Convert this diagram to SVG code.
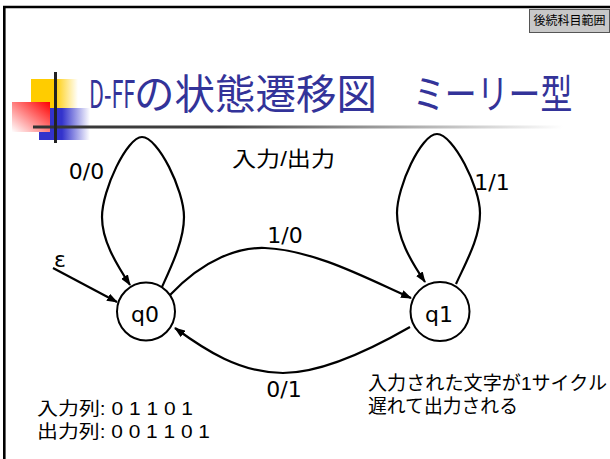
<svg xmlns="http://www.w3.org/2000/svg" width="610" height="459" viewBox="0 0 610 459">
<defs>
<style>
.lbl{font-family:"DejaVu Sans","Liberation Sans",sans-serif;font-size:22px;fill:#000;text-anchor:middle}
.jp{font-family:"Liberation Sans","Noto Sans CJK JP",sans-serif;fill:#000}
.edge{fill:none;stroke:#000;stroke-width:2.2}
.node circle{fill:#fff;stroke:#000;stroke-width:2}
.ttl{font-family:"Noto Sans CJK JP",sans-serif;fill:#333399}
</style>
<marker id="ah" markerWidth="11" markerHeight="8" refX="10" refY="4" orient="auto" markerUnits="userSpaceOnUse">
<path d="M0,0 L11,4 L0,8 z" fill="#000"/>
</marker>
<linearGradient id="gy" x1="0" y1="0" x2="1" y2="0">
<stop offset="0" stop-color="#FFCC00"/><stop offset="0.5" stop-color="#FFCC00"/><stop offset="1" stop-color="#FFFFFF"/>
</linearGradient>
<linearGradient id="gb" x1="0" y1="0" x2="1" y2="0">
<stop offset="0" stop-color="#3333CC"/><stop offset="0.45" stop-color="#3333CC"/><stop offset="1" stop-color="#FFFFFF"/>
</linearGradient>
<linearGradient id="gr" x1="1" y1="0" x2="0" y2="1">
<stop offset="0" stop-color="#FF0000"/><stop offset="1" stop-color="#FFFFFF"/>
</linearGradient>
<linearGradient id="gl" x1="0" y1="0" x2="1" y2="0">
<stop offset="0" stop-color="#333333"/><stop offset="0.35" stop-color="#444444"/><stop offset="1" stop-color="#FFFFFF"/>
</linearGradient>
</defs>
<rect width="610" height="459" fill="#fff"/>
<path d="M4.3,459 V7 H610" fill="none" stroke="#000" stroke-width="2.6"/>
<g id="badge">
<rect x="529.5" y="9.5" width="80" height="23" fill="#C8C8C8" stroke="#555" stroke-width="1"/>
<text x="569.5" y="25" font-family="Noto Sans CJK JP, sans-serif" font-size="12" text-anchor="middle" textLength="72" lengthAdjust="spacingAndGlyphs">後続科目範囲</text>
</g>
<g id="logo">
<rect x="31" y="79" width="47" height="39" fill="url(#gy)"/>
<rect x="39" y="108" width="51" height="32" fill="url(#gb)"/>
<rect x="12" y="102" width="38" height="30" fill="url(#gr)"/>
<rect x="33" y="125.5" width="530" height="3" fill="url(#gl)"/>
<rect x="54" y="72" width="3" height="71" fill="#222"/>
</g>
<g id="title">
<text class="ttl" transform="translate(89,108) scale(0.57,1)" font-size="38">D-FF</text>
<text class="ttl" x="134" y="109" font-size="40.5">の状態遷移図</text>
<text class="ttl" transform="translate(413,109) scale(0.787,1)" font-size="40.5">ミーリー型</text>
</g>
<g id="connectors">
<path class="edge" d="M53,268 L117,302" marker-end="url(#ah)"/>
<path class="edge" d="M162,287 C172,265 184,240 184,217 C184,190 158,137 142,137 C127,137 102,190 102,217 C102,240 115,262 130,285" marker-end="url(#ah)"/>
<path class="edge" d="M456,284 C466,262 480,238 480,213 C480,187 453,134 437,134 C421,134 397,187 397,213 C397,237 410,260 425,282" marker-end="url(#ah)"/>
<path class="edge" d="M170,295 C205,258 240,247 265,248 C315,250 370,280 411,298" marker-end="url(#ah)"/>
<path class="edge" d="M410,327 C370,350 320,373 283,373 C240,373 205,350 175,328" marker-end="url(#ah)"/>
</g>
<g id="q0" class="node">
<circle cx="146" cy="311.5" r="29"/>
<text class="lbl" x="145" y="322">q0</text>
</g>
<g id="q1" class="node">
<circle cx="440" cy="311.5" r="29.5"/>
<text class="lbl" x="439" y="322">q1</text>
</g>
<g id="labels">
<text class="lbl" x="86.5" y="179">0/0</text>
<text class="lbl" x="285" y="243">1/0</text>
<text class="lbl" x="492" y="190">1/1</text>
<text class="lbl" x="284" y="397">0/1</text>
<text class="lbl" x="60" y="267">ε</text>
<text class="jp" x="232" y="166" font-size="21" textLength="103" lengthAdjust="spacingAndGlyphs">入力/出力</text>
<text class="jp" x="368" y="390" font-size="19" textLength="239" lengthAdjust="spacingAndGlyphs">入力された文字が1サイクル</text>
<text class="jp" x="368" y="413" font-size="19" textLength="150" lengthAdjust="spacingAndGlyphs">遅れて出力される</text>
<text class="jp" x="37" y="415" font-size="18" textLength="156" lengthAdjust="spacingAndGlyphs">入力列: 0 1 1 0 1</text>
<text class="jp" x="37" y="438" font-size="18" textLength="173" lengthAdjust="spacingAndGlyphs">出力列: 0 0 1 1 0 1</text>
</g>
</svg>
